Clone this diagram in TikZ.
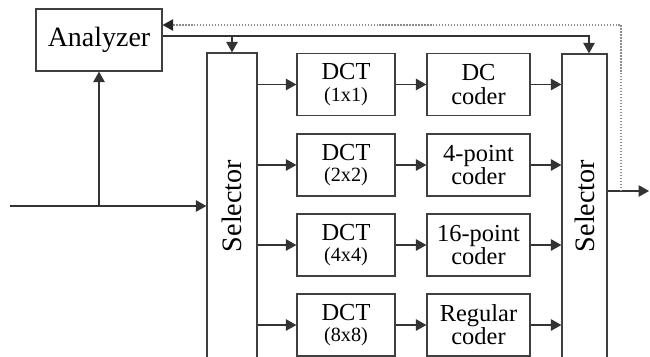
\documentclass[tikz,border=0pt]{standalone}
\usepackage{fontspec}
\setmainfont{Liberation Serif}
\usepackage{graphicx}
\usetikzlibrary{arrows.meta}

\begin{document}
\begin{tikzpicture}[
    box/.style={rectangle, draw=black!75, line width=0.7pt, align=center, inner sep=0pt,
        font=\fontsize{13.9}{13.2}\selectfont},
    link/.style={draw=black!80, line width=0.7pt, -{Triangle[length=2.1mm, width=2.3mm]}},
    feedback/.style={draw=black!45, line width=0.7pt, densely dotted, -{Triangle[length=2.1mm, width=2.3mm, color=black!85]}}
]
    \clip (0, 0) rectangle (13, 7.12);

    % analyzer and the two selectors
    \node[box, minimum width=2.52cm, minimum height=1.24cm, font=\fontsize{15.9}{16}\selectfont] (ana) at (1.98, 6.32) {Analyzer};
    \node[box, minimum width=1.0cm, minimum height=6.12cm, font=\fontsize{16}{16}\selectfont] (selin) at (4.64, 3.0) {\rotatebox{90}{Selector}};
    \node[box, minimum width=0.9cm, minimum height=6.08cm, font=\fontsize{16}{16}\selectfont] (selout) at (11.69, 3.0) {\rotatebox{90}{Selector}};

    % transforms
    \node[box, minimum width=1.96cm, minimum height=1.24cm] (dct1) at (6.92, 5.43) {DCT\\[-1pt]{\fontsize{11.5}{12}\selectfont (1x1)}};
    \node[box, minimum width=1.96cm, minimum height=1.24cm] (dct2) at (6.92, 3.82) {DCT\\[-1pt]{\fontsize{11.5}{12}\selectfont (2x2)}};
    \node[box, minimum width=1.96cm, minimum height=1.24cm] (dct4) at (6.92, 2.22) {DCT\\[-1pt]{\fontsize{11.5}{12}\selectfont (4x4)}};
    \node[box, minimum width=1.96cm, minimum height=1.24cm] (dct8) at (6.92, 0.62) {DCT\\[-1pt]{\fontsize{11.5}{12}\selectfont (8x8)}};

    % coders
    \node[box, minimum width=2.06cm, minimum height=1.24cm] (cdc) at (9.57, 5.43) {DC\\coder};
    \node[box, minimum width=2.06cm, minimum height=1.24cm] (c4) at (9.57, 3.82) {4-point\\coder};
    \node[box, minimum width=2.06cm, minimum height=1.24cm] (c16) at (9.57, 2.22) {16-point\\coder};
    \node[box, minimum width=2.06cm, minimum height=1.24cm] (creg) at (9.57, 0.62) {Regular\\coder};

    \coordinate (in) at (0.2, 3.0);
    \coordinate (ctl) at ([yshift=0.08cm]ana.east);
    \coordinate (out) at (12.98, 3.30);
    \coordinate (fb) at (12.42, 3.30);

    % input and analyzer control
    \draw[link] (in) -- (selin.west);
    \draw[link] (ana.south |- in) -- (ana.south);
    \draw[link] (ctl) -| ([xshift=0.09cm]selout.north);
    \draw[link] (selin.north |- ctl) -- (selin.north);

    % selector -> transform -> coder -> selector
    \draw[link] (selin.east |- dct1.west) -- (dct1.west);
    \draw[link] (selin.east |- dct2.west) -- (dct2.west);
    \draw[link] (selin.east |- dct4.west) -- (dct4.west);
    \draw[link] (selin.east |- dct8.west) -- (dct8.west);
    \draw[link] (dct1) -- (cdc);
    \draw[link] (dct2) -- (c4);
    \draw[link] (dct4) -- (c16);
    \draw[link] (dct8) -- (creg);
    \draw[link] (cdc.east) -- (selout.west |- cdc.east);
    \draw[link] (c4.east) -- (selout.west |- c4.east);
    \draw[link] (c16.east) -- (selout.west |- c16.east);
    \draw[link] (creg.east) -- (selout.west |- creg.east);

    % output and feedback to the analyzer
    \draw[link] (selout.east |- out) -- (out);
    \draw[feedback] (fb) |- ([yshift=0.30cm]ana.east);
\end{tikzpicture}
\end{document}
